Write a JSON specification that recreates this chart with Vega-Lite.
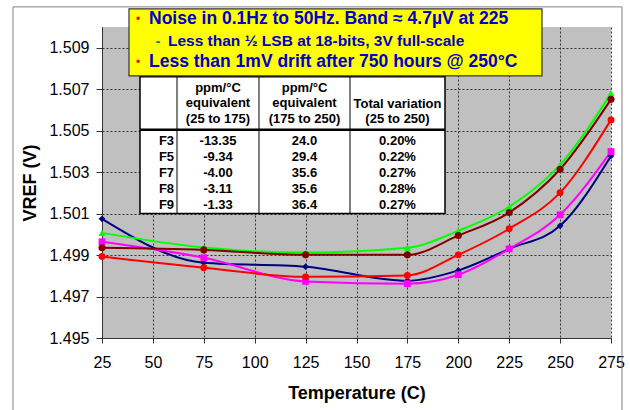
{
  "$schema": "https://vega.github.io/schema/vega-lite/v6.json",
  "width": 509,
  "height": 311,
  "autosize": {"type": "none"},
  "padding": {"left": 102, "top": 27, "right": 19, "bottom": 72},
  "background": "white",
  "config": {
    "view": {"fill": "#C0C0C0", "stroke": null},
    "font": "Liberation Sans",
    "axis": {"labelFont": "Liberation Sans", "titleFont": "Liberation Sans", "labelColor": "#000", "titleColor": "#000", "domainColor": "#333", "tickColor": "#333"}
  },
  "resolve": {"scale": {"y": "independent"}},
  "layer": [
    {
      "layer": [
        {
          "data": {"values": [
            {"series": "F3", "temp": 25, "vref": 1.50075}, {"series": "F3", "temp": 75, "vref": 1.49863}, {"series": "F3", "temp": 125, "vref": 1.49844}, {"series": "F3", "temp": 175, "vref": 1.49776}, {"series": "F3", "temp": 200, "vref": 1.49826}, {"series": "F3", "temp": 225, "vref": 1.4993}, {"series": "F3", "temp": 250, "vref": 1.50041}, {"series": "F3", "temp": 275, "vref": 1.50378},
            {"series": "F5", "temp": 25, "vref": 1.49964}, {"series": "F5", "temp": 75, "vref": 1.49887}, {"series": "F5", "temp": 125, "vref": 1.49773}, {"series": "F5", "temp": 175, "vref": 1.49762}, {"series": "F5", "temp": 200, "vref": 1.49805}, {"series": "F5", "temp": 225, "vref": 1.4993}, {"series": "F5", "temp": 250, "vref": 1.50094}, {"series": "F5", "temp": 275, "vref": 1.50399},
            {"series": "F7", "temp": 25, "vref": 1.49893}, {"series": "F7", "temp": 75, "vref": 1.49839}, {"series": "F7", "temp": 125, "vref": 1.49795}, {"series": "F7", "temp": 175, "vref": 1.49802}, {"series": "F7", "temp": 200, "vref": 1.49901}, {"series": "F7", "temp": 225, "vref": 1.50027}, {"series": "F7", "temp": 250, "vref": 1.50201}, {"series": "F7", "temp": 275, "vref": 1.50552},
            {"series": "F8", "temp": 25, "vref": 1.50007}, {"series": "F8", "temp": 75, "vref": 1.49936}, {"series": "F8", "temp": 125, "vref": 1.49912}, {"series": "F8", "temp": 175, "vref": 1.49935}, {"series": "F8", "temp": 200, "vref": 1.50017}, {"series": "F8", "temp": 225, "vref": 1.50133}, {"series": "F8", "temp": 250, "vref": 1.50335}, {"series": "F8", "temp": 275, "vref": 1.5068},
            {"series": "F9", "temp": 25, "vref": 1.49935}, {"series": "F9", "temp": 75, "vref": 1.49925}, {"series": "F9", "temp": 125, "vref": 1.49901}, {"series": "F9", "temp": 175, "vref": 1.49901}, {"series": "F9", "temp": 200, "vref": 1.49994}, {"series": "F9", "temp": 225, "vref": 1.50105}, {"series": "F9", "temp": 250, "vref": 1.50314}, {"series": "F9", "temp": 275, "vref": 1.50651}
          ]},
          "encoding": {
            "x": {"field": "temp", "type": "quantitative",
              "scale": {"domain": [25, 275], "nice": false, "zero": false},
              "axis": {"title": "Temperature (C)", "values": [25, 50, 75, 100, 125, 150, 175, 200, 225, 250, 275], "grid": true, "gridColor": "#333", "gridDash": [2, 2], "tickSize": 5, "labelPadding": 11, "labelFontSize": 16, "labelFlush": false, "titleFontSize": 18, "titleFontWeight": "bold", "titlePadding": 14}},
            "y": {"field": "vref", "type": "quantitative",
              "scale": {"domain": [1.495, 1.51], "nice": false, "zero": false},
              "axis": {"title": "VREF (V)",
                "values": [1.495, 1.4955, 1.496, 1.4965, 1.497, 1.4975, 1.498, 1.4985, 1.499, 1.4995, 1.5, 1.5005, 1.501, 1.5015, 1.502, 1.5025, 1.503, 1.5035, 1.504, 1.5045, 1.505, 1.5055, 1.506, 1.5065, 1.507, 1.5075, 1.508, 1.5085, 1.509, 1.5095, 1.51],
                "labelExpr": "abs((datum.value - 1.495) / 0.002 - round((datum.value - 1.495) / 0.002)) < 0.01 ? format(datum.value, '.3f') : ''",
                "labelOverlap": false, "labelFlush": false, "labelFontSize": 16, "labelPadding": 7, "tickSize": 6,
                "grid": true, "gridColor": "#333", "gridDash": [2, 2],
                "gridOpacity": {"condition": {"test": "abs((datum.value - 1.495) / 0.002 - round((datum.value - 1.495) / 0.002)) < 0.01", "value": 1}, "value": 0},
                "titleFontSize": 18, "titleFontWeight": "bold", "titlePadding": 9}},
            "color": {"field": "series", "type": "nominal", "scale": {"domain": ["F3", "F5", "F7", "F8", "F9"], "range": ["#000080", "#FF00FF", "#FF0000", "#00FF00", "#800000"]}, "legend": null}
          },
          "layer": [
            {"mark": {"type": "line", "interpolate": "monotone", "strokeWidth": 2}},
            {"mark": {"type": "point", "filled": true, "opacity": 1},
              "encoding": {
                "shape": {"field": "series", "type": "nominal", "scale": {"domain": ["F3", "F5", "F7", "F8", "F9"], "range": ["diamond", "square", "circle", "triangle-up", "circle"]}, "legend": null},
                "size": {"field": "series", "type": "nominal", "scale": {"domain": ["F3", "F5", "F7", "F8", "F9"], "range": [45, 50, 30, 50, 55]}, "legend": null}
              }}
          ]
        },
        {
          "data": {"values": [{}]},
          "mark": {"type": "rect", "fill": null, "fillOpacity": 0, "stroke": "#808080", "strokeWidth": 1},
          "encoding": {"x": {"datum": -18.7, "type": "quantitative"}, "x2": {"datum": 280.4}, "y": {"datum": 1.51097, "type": "quantitative"}, "y2": {"datum": 1.49143}}
        },
        {
          "data": {"values": [{}]},
          "mark": {"type": "rect", "fill": "white", "stroke": "black", "strokeWidth": 1.5},
          "encoding": {"x": {"datum": 43.66, "type": "quantitative"}, "x2": {"datum": 193.47}, "y": {"datum": 1.5076, "type": "quantitative"}, "y2": {"datum": 1.50101}}
        },
        {
          "data": {"values": [{"pos": 61.84}, {"pos": 102.11}, {"pos": 146.81}]},
          "mark": {"type": "rule", "stroke": "black", "strokeWidth": 1},
          "encoding": {"x": {"field": "pos", "type": "quantitative"}, "y": {"datum": 1.5076, "type": "quantitative"}, "y2": {"datum": 1.50101}}
        },
        {
          "data": {"values": [{}]},
          "mark": {"type": "rule", "stroke": "black", "strokeWidth": 2.5},
          "encoding": {"x": {"datum": 43.66, "type": "quantitative"}, "x2": {"datum": 193.47}, "y": {"datum": 1.50505, "type": "quantitative"}}
        },
        {
          "data": {"values": [{"h": "ppm/°C\nequivalent\n(25 to 175)"}]},
          "mark": {"type": "text", "font": "Liberation Sans", "fontWeight": "bold", "fontSize": 13, "lineBreak": "\n", "lineHeight": 15.5, "align": "center", "baseline": "middle", "color": "black"},
          "encoding": {"x": {"datum": 81.97, "type": "quantitative"}, "y": {"datum": 1.50706, "type": "quantitative"}, "text": {"field": "h"}}
        },
        {
          "data": {"values": [{"h": "ppm/°C\nequivalent\n(175 to 250)"}]},
          "mark": {"type": "text", "font": "Liberation Sans", "fontWeight": "bold", "fontSize": 13, "lineBreak": "\n", "lineHeight": 15.5, "align": "center", "baseline": "middle", "color": "black"},
          "encoding": {"x": {"datum": 124.46, "type": "quantitative"}, "y": {"datum": 1.50706, "type": "quantitative"}, "text": {"field": "h"}}
        },
        {
          "data": {"values": [{"h": "Total variation\n(25 to 250)"}]},
          "mark": {"type": "text", "font": "Liberation Sans", "fontWeight": "bold", "fontSize": 13, "lineBreak": "\n", "lineHeight": 15.5, "align": "center", "baseline": "middle", "color": "black"},
          "encoding": {"x": {"datum": 170.14, "type": "quantitative"}, "y": {"datum": 1.50631, "type": "quantitative"}, "text": {"field": "h"}}
        },
        {
          "data": {"values": [{}]},
          "mark": {"type": "rect", "fill": "#FFFF00", "stroke": "#333", "strokeWidth": 1.2},
          "encoding": {"x": {"datum": 38.26, "type": "quantitative"}, "x2": {"datum": 241.1}, "y": {"datum": 1.51087, "type": "quantitative"}, "y2": {"datum": 1.50764}}
        },
        {
          "data": {"values": [{"b": "•"}]},
          "mark": {"type": "text", "font": "Liberation Sans", "fontSize": 12, "align": "center", "baseline": "middle", "color": "#FF0000"},
          "encoding": {"x": {"datum": 42.7, "type": "quantitative"}, "y": {"datum": 1.51039, "type": "quantitative"}, "text": {"field": "b"}}
        },
        {
          "data": {"values": [{"b": "•"}]},
          "mark": {"type": "text", "font": "Liberation Sans", "fontSize": 12, "align": "center", "baseline": "middle", "color": "#FF0000"},
          "encoding": {"x": {"datum": 42.7, "type": "quantitative"}, "y": {"datum": 1.50833, "type": "quantitative"}, "text": {"field": "b"}}
        },
        {
          "data": {"values": [{"b": "-"}]},
          "mark": {"type": "text", "font": "Liberation Sans", "fontWeight": "bold", "fontSize": 15, "align": "center", "baseline": "middle", "color": "#008080"},
          "encoding": {"x": {"datum": 52.5, "type": "quantitative"}, "y": {"datum": 1.50932, "type": "quantitative"}, "text": {"field": "b"}}
        },
        {
          "data": {"values": [{"t": "Noise in 0.1Hz to 50Hz. Band ≈ 4.7µV at 225"}]},
          "mark": {"type": "text", "font": "Liberation Sans", "fontWeight": "bold", "fontSize": 17.5, "align": "left", "baseline": "middle", "color": "#0000CC"},
          "encoding": {"x": {"datum": 48.1, "type": "quantitative"}, "y": {"datum": 1.51039, "type": "quantitative"}, "text": {"field": "t"}}
        },
        {
          "data": {"values": [{"t": "Less than ½ LSB at 18-bits, 3V full-scale"}]},
          "mark": {"type": "text", "font": "Liberation Sans", "fontWeight": "bold", "fontSize": 15.5, "align": "left", "baseline": "middle", "color": "#0000CC"},
          "encoding": {"x": {"datum": 57.4, "type": "quantitative"}, "y": {"datum": 1.50932, "type": "quantitative"}, "text": {"field": "t"}}
        },
        {
          "data": {"values": [{"t": "Less than 1mV drift after 750 hours @ 250°C"}]},
          "mark": {"type": "text", "font": "Liberation Sans", "fontWeight": "bold", "fontSize": 17.5, "align": "left", "baseline": "middle", "color": "#0000CC"},
          "encoding": {"x": {"datum": 48.1, "type": "quantitative"}, "y": {"datum": 1.50833, "type": "quantitative"}, "text": {"field": "t"}}
        }
      ]
    },
    {
      "data": {"values": [
        {"name": "F3", "a": "-13.35", "b": "24.0", "c": "0.20%"},
        {"name": "F5", "a": "-9.34", "b": "29.4", "c": "0.22%"},
        {"name": "F7", "a": "-4.00", "b": "35.6", "c": "0.27%"},
        {"name": "F8", "a": "-3.11", "b": "35.6", "c": "0.28%"},
        {"name": "F9", "a": "-1.33", "b": "36.4", "c": "0.27%"}
      ]},
      "encoding": {
        "y": {"field": "name", "type": "ordinal", "scale": {"type": "point", "domain": ["F3", "F5", "F7", "F8", "F9"], "range": [114, 178], "padding": 0}, "axis": null}
      },
      "layer": [
        {"mark": {"type": "text", "font": "Liberation Sans", "fontWeight": "bold", "fontSize": 13, "align": "right", "baseline": "middle", "color": "black"},
          "encoding": {"x": {"datum": 60.4, "type": "quantitative", "scale": {"domain": [25, 275], "nice": false, "zero": false}}, "text": {"field": "name"}}},
        {"mark": {"type": "text", "font": "Liberation Sans", "fontWeight": "bold", "fontSize": 13, "align": "center", "baseline": "middle", "color": "black"},
          "encoding": {"x": {"datum": 81.97, "type": "quantitative"}, "text": {"field": "a"}}},
        {"mark": {"type": "text", "font": "Liberation Sans", "fontWeight": "bold", "fontSize": 13, "align": "center", "baseline": "middle", "color": "black"},
          "encoding": {"x": {"datum": 124.46, "type": "quantitative"}, "text": {"field": "b"}}},
        {"mark": {"type": "text", "font": "Liberation Sans", "fontWeight": "bold", "fontSize": 13, "align": "center", "baseline": "middle", "color": "black"},
          "encoding": {"x": {"datum": 170.14, "type": "quantitative"}, "text": {"field": "c"}}}
      ]
    }
  ]
}
